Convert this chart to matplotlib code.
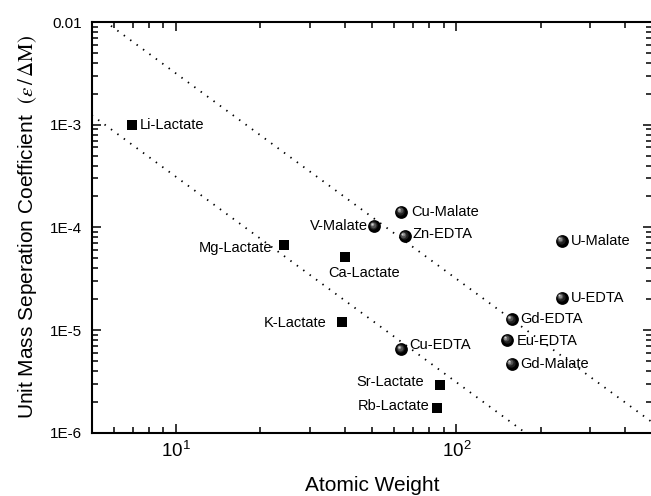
import numpy as np
import matplotlib
matplotlib.use('Agg')
import matplotlib.pyplot as plt
from matplotlib.transforms import ScaledTranslation
from matplotlib.ticker import LogLocator, FixedLocator, FixedFormatter, NullFormatter

plt.rcParams['font.family'] = ['Liberation Sans', 'DejaVu Sans']
plt.rcParams['mathtext.fontset'] = 'stix'

# lactates (square markers)
lactate_names = ['Li-Lactate', 'Mg-Lactate', 'Ca-Lactate', 'K-Lactate', 'Sr-Lactate', 'Rb-Lactate']
lactate_x = [6.94, 24.3, 40.1, 39.1, 87.6, 85.5]
lactate_y = [1.0e-3, 6.7e-5, 5.2e-5, 1.2e-5, 2.9e-6, 1.75e-6]

# malates / EDTA complexes (sphere markers)
complex_names = ['V-Malate', 'Cu-Malate', 'Zn-EDTA', 'Cu-EDTA', 'U-Malate',
                 'U-EDTA', 'Gd-EDTA', 'Eu-EDTA', 'Gd-Malate']
complex_x = [50.9, 63.5, 65.4, 63.5, 238.0, 238.0, 157.3, 152.0, 157.3]
complex_y = [1.03e-4, 1.42e-4, 8.2e-5, 6.5e-6, 7.4e-5, 2.06e-5, 1.27e-5, 8.0e-6, 4.7e-6]

# dotted guide lines  y = c / x^2
guide_coef = [0.315, 0.031]

x_ticks = [10, 100]
x_tick_labels = [r'$\mathregular{10^1}$', r'$\mathregular{10^2}$']
y_ticks = [1e-6, 1e-5, 1e-4, 1e-3, 1e-2]
y_tick_labels = ['1E-6', '1E-5', '1E-4', '1E-3', '0.01']

# label placement (offset points, alignment)
lactate_lab = [(6, 0, 'left'), (-8.5, -2, 'right'), (-12, -12, 'left'),
               (-11.5, -0.7, 'right'), (-11.5, 2, 'right'), (-6, 1, 'right')]
complex_lab = [(-4.3, 0, 'right'), (7, 0, 'left'), (5.5, 1.4, 'left'), (5.5, 3, 'left'),
               (6.5, 0, 'left'), (6.5, 0, 'left'), (6, 0, 'left'), (7, -0.7, 'left'),
               (6, 0, 'left')]

fig = plt.figure(figsize=(6.51, 4.96), dpi=100)
ax = fig.add_axes([0.1409, 0.1276, 0.8612, 0.8280])
ax.set_xscale('log')
ax.set_yscale('log')
ax.set_xlim(5, 500)
ax.set_ylim(1e-6, 1e-2)

xs = np.array([5.0, 500.0])
for c in guide_coef:
    ax.plot(xs, c / xs**2, color='black', lw=1.3, ls=(0, (0.8, 3.6)), zorder=2)

ax.plot(lactate_x, lactate_y, 's', color='black', ms=7.6, mew=0, zorder=3)

# shaded spheres: black ball + stacked highlights toward upper left
ax.plot(complex_x, complex_y, 'o', color='black', ms=9.2, mew=0, zorder=3)
shades = [(6.0, '#202020', -0.6, 0.6), (4.2, '#505050', -1.1, 1.1),
          (2.6, '#8a8a8a', -1.5, 1.5), (1.3, '#d0d0d0', -1.8, 1.8)]
for size, col, ox, oy in shades:
    tr = ax.transData + ScaledTranslation(ox / 72, oy / 72, fig.dpi_scale_trans)
    ax.plot(complex_x, complex_y, 'o', color=col, ms=size, mew=0, zorder=4, transform=tr)

for name, x, y, (dx, dy, ha) in zip(lactate_names, lactate_x, lactate_y, lactate_lab):
    ax.annotate(name, (x, y), xytext=(dx, dy), textcoords='offset points',
                ha=ha, va='center', fontsize=10.5, zorder=5)
for name, x, y, (dx, dy, ha) in zip(complex_names, complex_x, complex_y, complex_lab):
    ax.annotate(name, (x, y), xytext=(dx, dy), textcoords='offset points',
                ha=ha, va='center', fontsize=10.5, zorder=5)

ax.xaxis.set_major_locator(FixedLocator(x_ticks))
ax.xaxis.set_major_formatter(FixedFormatter(x_tick_labels))
ax.xaxis.set_minor_locator(LogLocator(base=10, subs=np.arange(2, 10)))
ax.xaxis.set_minor_formatter(NullFormatter())
ax.yaxis.set_major_locator(FixedLocator(y_ticks))
ax.yaxis.set_major_formatter(FixedFormatter(y_tick_labels))
ax.yaxis.set_minor_locator(LogLocator(base=10, subs=np.arange(2, 10)))
ax.yaxis.set_minor_formatter(NullFormatter())

ax.tick_params(which='both', direction='in', top=True, right=True, width=1.1)
ax.tick_params(which='major', length=6.5, pad=7)
ax.tick_params(which='minor', length=4)
ax.tick_params(axis='y', labelsize=11)
ax.tick_params(axis='x', labelsize=13.5, pad=6)
for s in ax.spines.values():
    s.set_linewidth(1.5)

ax.set_xlabel('Atomic Weight', fontsize=15, labelpad=11)
ax.set_ylabel(r'Unit Mass Seperation Coefficient  $(\varepsilon\,/\,\Delta\mathrm{M})$',
              fontsize=15, labelpad=8)

fig.savefig('out.png', dpi=100)
